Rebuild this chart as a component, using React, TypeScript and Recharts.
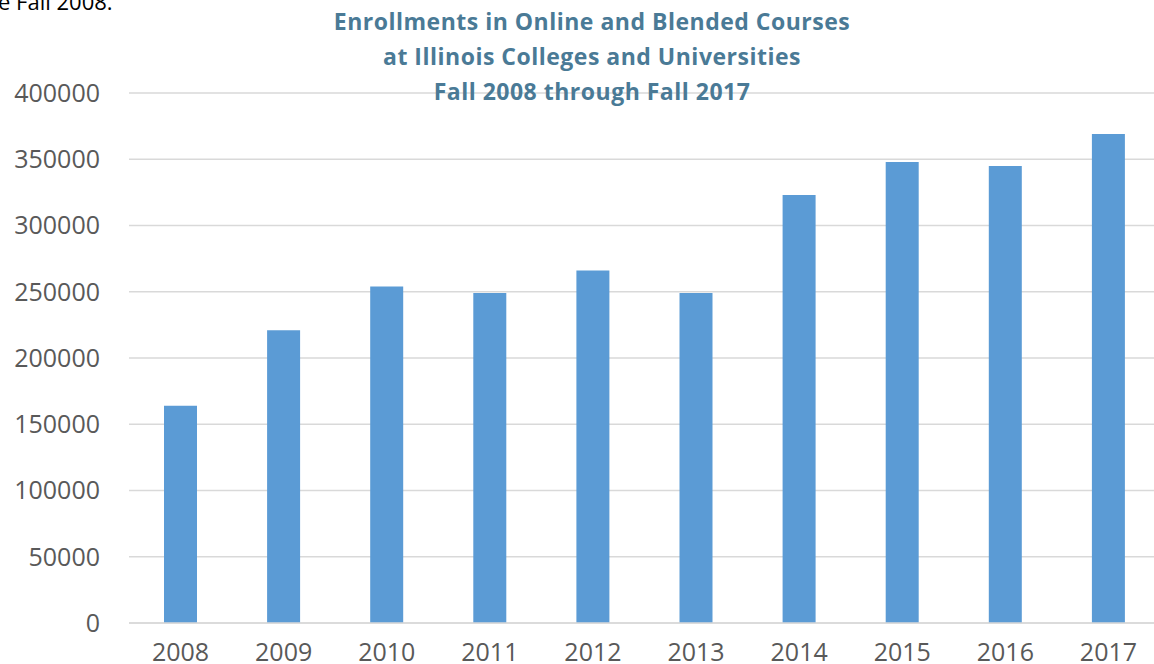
import { BarChart, Bar, XAxis, YAxis, CartesianGrid } from "recharts";

const years = ["2008", "2009", "2010", "2011", "2012", "2013", "2014", "2015", "2016", "2017"];
const enrollments = [164000, 221000, 254000, 249000, 266000, 249000, 323000, 348000, 345000, 369000];
const yTicks = [0, 50000, 100000, 150000, 200000, 250000, 300000, 350000, 400000];

const data = years.map((year, i) => ({ year, value: enrollments[i] }));

const tickFont = { fontFamily: "'Open Sans', sans-serif", fontSize: 25, fill: "#595959" };

export default function App() {
  return (
    <div
      style={{
        position: "absolute",
        left: 0,
        top: 0,
        width: 1154,
        height: 664,
        overflow: "hidden",
        background: "#fff",
      }}
    >
      <div
        style={{
          position: "absolute",
          left: -2,
          top: -14,
          fontFamily: "'Open Sans', sans-serif",
          fontSize: 22,
          color: "#000",
        }}
      >
        e Fall 2008.
      </div>
      <BarChart
        width={1160}
        height={664}
        data={data}
        margin={{ top: 93, right: 0, bottom: 11, left: 0 }}
      >
        <CartesianGrid vertical={false} stroke="#d9d9d9" strokeWidth={1.5} />
        <XAxis
          dataKey="year"
          height={30}
          tickLine={false}
          axisLine={{ stroke: "#d9d9d9", strokeWidth: 1.5 }}
          tickSize={0}
          tickMargin={20}
          tick={tickFont}
          interval={0}
        />
        <YAxis
          width={129}
          domain={[0, 400000]}
          ticks={yTicks}
          tickLine={false}
          axisLine={false}
          tickSize={0}
          tickMargin={29}
          tick={tickFont}
        />
        <Bar dataKey="value" fill="#5b9bd5" barSize={33} isAnimationActive={false} />
      </BarChart>
      <div
        style={{
          position: "absolute",
          left: 242,
          width: 700,
          top: 4,
          textAlign: "center",
          fontFamily: "'Open Sans', sans-serif",
          fontWeight: 700,
          fontSize: 23,
          letterSpacing: 0.5,
          lineHeight: "35px",
          color: "#4a7a96",
        }}
      >
        Enrollments in Online and Blended Courses
        <br />
        at Illinois Colleges and Universities
        <br />
        Fall 2008 through Fall 2017
      </div>
    </div>
  );
}
